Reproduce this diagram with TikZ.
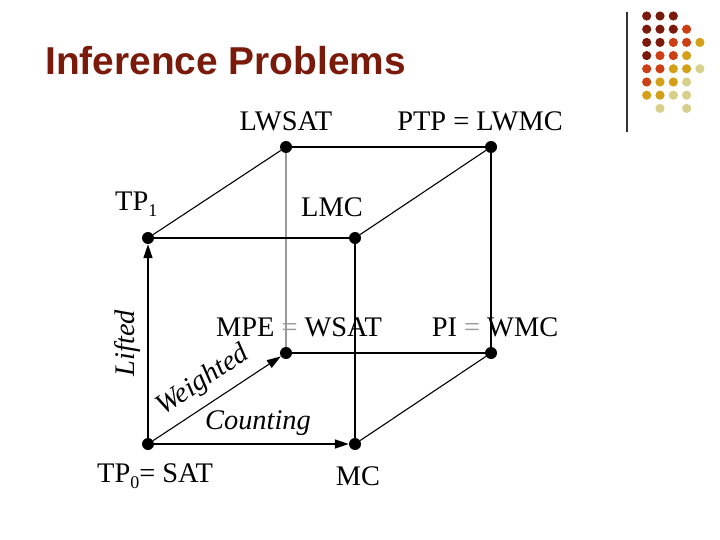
\documentclass[tikz,border=0pt]{standalone}
\usepackage{fontspec}
\setmainfont{Liberation Serif}
\newfontfamily\titlefont{Liberation Sans}
\usetikzlibrary{arrows.meta}
\definecolor{dred}{HTML}{7A1A0A}
\definecolor{ored}{HTML}{CC3F14}
\definecolor{gold}{HTML}{D4A017}
\definecolor{lite}{HTML}{D6D08A}
\definecolor{hid}{HTML}{9A9A9A}
\tikzset{
  dot/.style={circle,fill=black,inner sep=0pt,minimum size=12bp},
  lbl/.style={inner sep=0pt,font=\fontsize{28.5}{28.5}\selectfont},
  ilbl/.style={inner sep=0pt,font=\fontsize{28.5}{28.5}\selectfont\itshape},
  edge/.style={line width=1.6bp,black},
  diag/.style={line width=1.1bp,black},
  hidden/.style={line width=1.6bp,hid},
  tip/.style={-{Triangle[length=14bp,width=9bp]}}
}
\newcommand{\subsc}[1]{\raisebox{-6bp}{\fontsize{18}{18}\selectfont #1}}
\begin{document}
\begin{tikzpicture}[x=1bp,y=-1bp]
\path[use as bounding box] (0,0) rectangle (720,540);
% title
\node[anchor=base west,inner sep=0pt,text=dred,font=\fontsize{39}{39}\selectfont\titlefont\bfseries] (title) at (45,75) {Inference Problems};
% decoration
\draw[line width=1.2bp,black!80] (627,12) -- (627,132);
\foreach \c [count=\i from 0] in {dred,dred,dred}{\fill[\c] (646.7+13.3*\i,16) circle (4.6);}
\foreach \c [count=\i from 0] in {dred,dred,dred,ored}{\fill[\c] (646.7+13.3*\i,29.2) circle (4.6);}
\foreach \c [count=\i from 0] in {dred,dred,ored,ored,gold}{\fill[\c] (646.7+13.3*\i,42.4) circle (4.6);}
\foreach \c [count=\i from 0] in {dred,ored,ored,gold}{\fill[\c] (646.7+13.3*\i,55.6) circle (4.6);}
\foreach \c [count=\i from 0] in {ored,ored,gold,gold,lite}{\fill[\c] (646.7+13.3*\i,68.8) circle (4.6);}
\foreach \c [count=\i from 0] in {ored,gold,gold,lite}{\fill[\c] (646.7+13.3*\i,82) circle (4.6);}
\foreach \c [count=\i from 0] in {gold,gold,lite,lite}{\fill[\c] (646.7+13.3*\i,95.2) circle (4.6);}
\fill[lite] (660,108.4) circle (4.6);
\fill[lite] (686.7,108.4) circle (4.6);
% labels
\node[lbl,anchor=base] (tlwsat) at (286,131) {LWSAT};
\node[lbl,anchor=base] (tptp) at (480,131) {PTP = LWMC};
\node[lbl,anchor=base west] (ttp1) at (115,211) {TP\subsc{1}};
\node[lbl,anchor=base] (tlmc) at (332,217) {LMC};
\node[lbl,anchor=base] (tmpe) at (299,336) {MPE {\color{hid}=} WSAT};
\node[lbl,anchor=base] (tpi) at (495,336) {PI {\color{hid}=} WMC};
\node[lbl,anchor=base west] (ttp0) at (97,482) {TP\subsc{0}= SAT};
\node[lbl,anchor=base] (tmc) at (358,485) {MC};
\node[ilbl,rotate=90] (tlifted) at (128,343) {Lifted};
\node[ilbl,rotate=33.7] (tweighted) at (203,381) {Weighted};
\node[ilbl] (tcounting) at (258,423) {Counting};
% vertices
\node[dot] (tp0) at (148,444) {};
\node[dot] (mc) at (355,444) {};
\node[dot] (tp1) at (148,238) {};
\node[dot] (lmc) at (355,238) {};
\node[dot] (lwsat) at (286,147) {};
\node[dot] (ptp) at (491,147) {};
\node[dot] (mpe) at (286,353) {};
\node[dot] (pi) at (491,353) {};
% edges
\draw[hidden] (lwsat) -- (mpe);
\draw[edge] (lwsat) -- (ptp);
\draw[diag] (tp1) -- (lwsat);
\draw[diag] (lmc) -- (ptp);
\draw[edge] (tp1) -- (lmc);
\draw[edge] (ptp) -- (pi);
\draw[edge] (lmc) -- (mc);
\draw[diag] (mpe) -- (pi);
\draw[diag] (mc) -- (pi);
\draw[edge,tip] (tp0) -- (tp1);
\draw[diag,tip] (tp0) -- (mpe);
\draw[edge,tip] (tp0) -- (mc);
\end{tikzpicture}
\end{document}
